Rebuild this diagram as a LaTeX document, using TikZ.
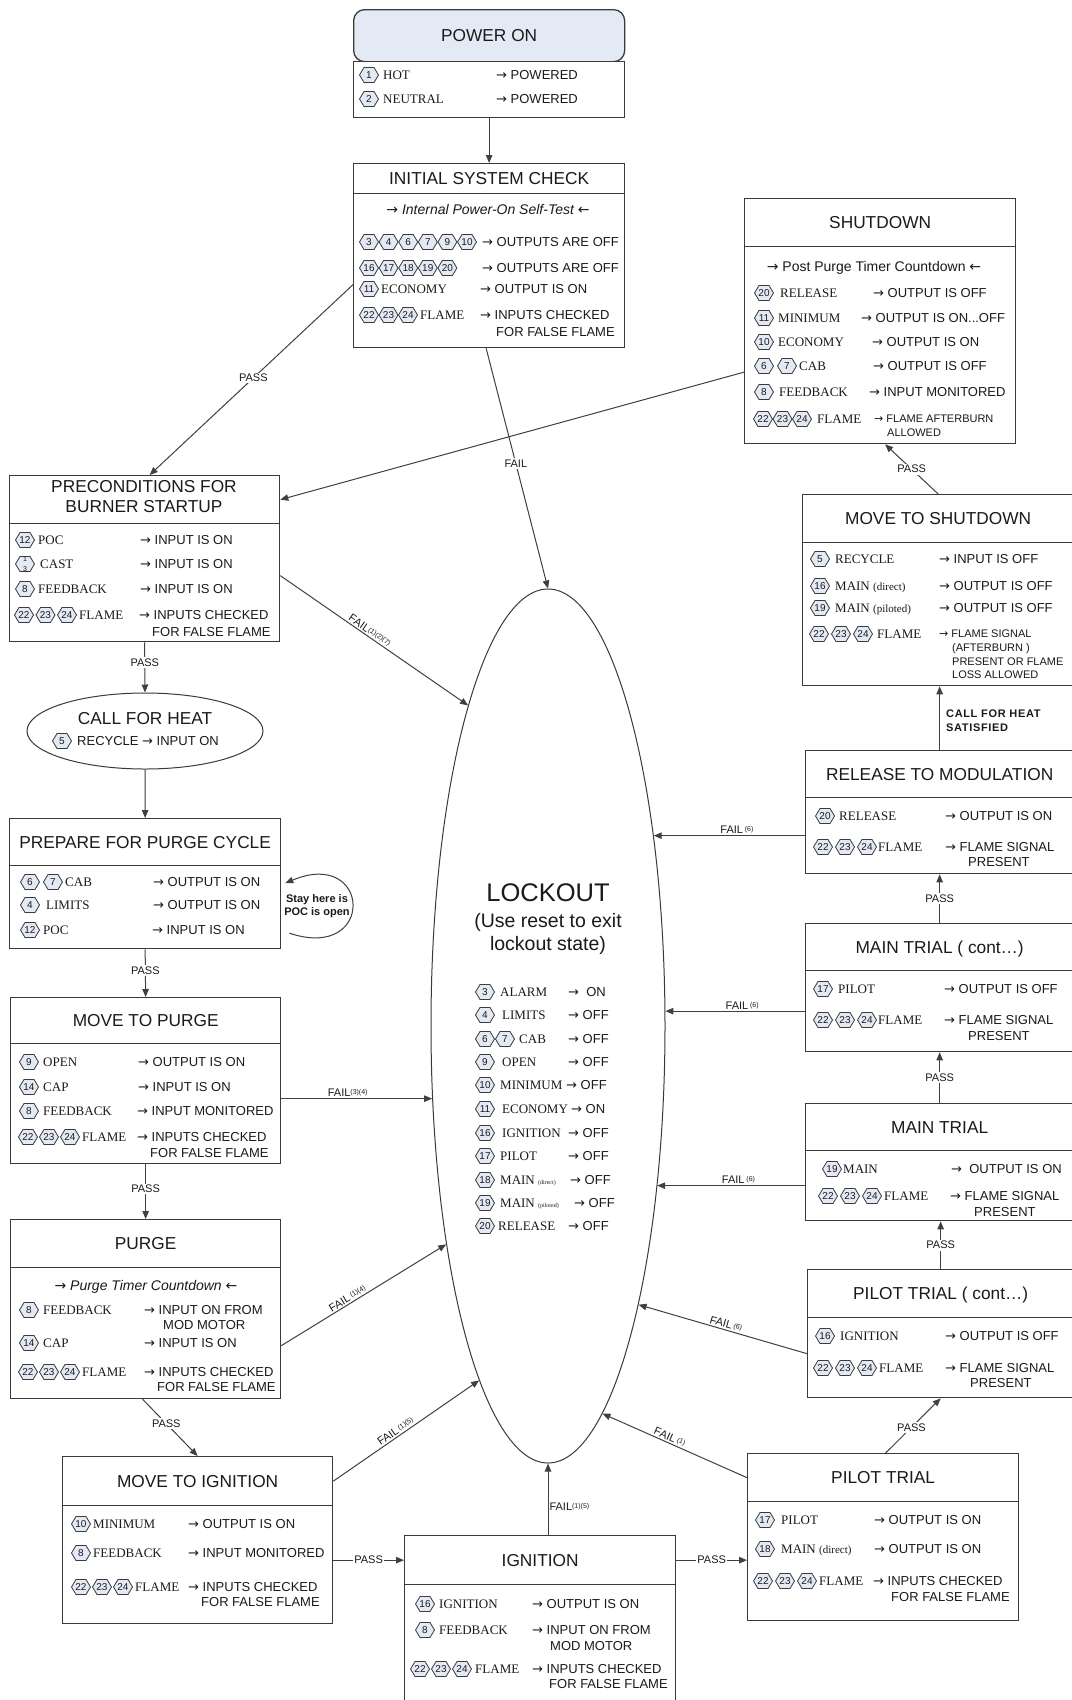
\documentclass[tikz,border=0pt]{standalone}
\usepackage{fontspec}
\setmainfont{Liberation Sans}
\newfontfamily\serifnm{Liberation Serif}
\newfontfamily\dvf{DejaVu Sans}
\usetikzlibrary{arrows.meta,shapes.geometric,calc}
\definecolor{lc}{HTML}{404040}
\definecolor{bc}{HTML}{3A3A3A}
\definecolor{tc}{HTML}{1A1A1A}
\definecolor{hexfill}{HTML}{E4EAF5}
\definecolor{pofill}{HTML}{E3EAF5}
\newcommand\fTtl{\fontsize{17.3}{20}\selectfont}
\newcommand\fNm{\serifnm\fontsize{13}{15}\selectfont}
\newcommand\fVl{\fontsize{13}{15}\selectfont}
\newcommand\fBan{\fontsize{14}{16}\selectfont}
\newcommand\fSm{\fontsize{11}{13}\selectfont}
\newcommand\fLb{\fontsize{11}{12}\selectfont}
\newcommand\fHx{\fontsize{10}{11}\selectfont}
\newcommand\fSup[1]{{\fontsize{7}{8}\selectfont\raisebox{2pt}{#1}}}
\newcommand\ra{{\dvf\upshape →}\ }
\newcommand\la{{\dvf\upshape ←}}
\tikzset{
  x=1pt, y=-1pt,
  ln/.style={draw=lc, line width=1pt},
  arr/.style={ln, -{Triangle[length=8pt,width=6.5pt]}},
  tbox/.style={draw=bc, line width=1.3pt, fill=white, inner sep=0pt, anchor=north west, font=\fTtl, text=tc, text height=12.4pt, text depth=0pt},
  bbox/.style={draw=bc, line width=1.3pt, fill=white, inner sep=0pt, anchor=north west},
  nmst/.style={anchor=west, inner sep=0pt, font=\fNm, text=tc, text height=8.6pt, text depth=0pt},
  vlst/.style={anchor=west, inner sep=0pt, font=\fVl, text=tc, text height=9.3pt, text depth=0pt},
  smst/.style={anchor=west, inner sep=0pt, font=\fSm, text=tc, text height=7.9pt, text depth=0pt},
  hexst/.style={draw=bc, line width=0.8pt, fill=hexfill},
  hexn/.style={inner sep=0pt, font=\fHx, text=tc, text height=7.2pt, text depth=0pt},
  wl/.style={font=\fLb, text=tc, fill=white, inner sep=1.5pt},
  sl/.style={font=\fLb, text=tc, inner sep=1.5pt, sloped, above},
}
\newcommand\hx[3]{\draw[hexst] (#1,#2) ++(-9.5,0) -- ++(4.5,-7.5) -- ++(10,0) -- ++(4.5,7.5) -- ++(-4.5,7.5) -- ++(-10,0) -- cycle; \node[hexn] at (#1,#2) {#3};}
\newcommand\hxf[3]{\hx{#1}{#2}{22}\hx{#1+#3}{#2}{23}\hx{#1+2*#3}{#2}{24}}
\newcommand\Nm[3]{\node[nmst] at (#1,#2) {#3};}
\newcommand\Vl[3]{\node[vlst] at (#1,#2) {#3};}
\newcommand\Sm[3]{\node[smst] at (#1,#2) {#3};}
\begin{document}
\begin{tikzpicture}
\useasboundingbox (0,0) rectangle (1071,1700);
\fill[white] (0,0) rectangle (1071,1700);

% ---------- boxes ----------
\node[tbox, fill=pofill, rounded corners=11pt, minimum width=271pt, minimum height=52pt] (pwt) at (353,9) {POWER ON};
\node[bbox, minimum width=271pt, minimum height=56pt] (pwb) at (353,61) {};
\node[tbox, minimum width=271pt, minimum height=30pt] (isct) at (353,163) {INITIAL SYSTEM CHECK};
\node[bbox, minimum width=271pt, minimum height=154pt] (iscb) at (353,193) {};
\node[tbox, minimum width=271pt, minimum height=48pt] (sdt) at (744,198) {SHUTDOWN};
\node[bbox, minimum width=271pt, minimum height=197pt] (sdb) at (744,246) {};
\node[tbox, minimum width=270pt, minimum height=48pt] (pret) at (9,475) {};
\node[font=\fTtl, text=tc, align=center, inner sep=0pt] (pretx) at (144,497) {PRECONDITIONS FOR\\BURNER STARTUP};
\node[bbox, minimum width=270pt, minimum height=118pt] (preb) at (9,523) {};
\node[ellipse, draw=bc, line width=1pt, fill=white, minimum width=236pt, minimum height=76pt, inner sep=0pt] (cfh) at (145,731) {};
\node[tbox, minimum width=271pt, minimum height=47pt] (prept) at (9,818) {PREPARE FOR PURGE CYCLE};
\node[bbox, minimum width=271pt, minimum height=83pt] (prepb) at (9,865) {};
\node[tbox, minimum width=270pt, minimum height=46pt] (mtpt) at (10,997) {MOVE TO PURGE};
\node[bbox, minimum width=270pt, minimum height=120pt] (mtpb) at (10,1043) {};
\node[tbox, minimum width=270pt, minimum height=48pt] (purt) at (10,1219) {PURGE};
\node[bbox, minimum width=270pt, minimum height=131pt] (purb) at (10,1267) {};
\node[tbox, minimum width=270pt, minimum height=49pt] (mtit) at (62,1456) {MOVE TO IGNITION};
\node[bbox, minimum width=270pt, minimum height=118pt] (mtib) at (62,1505) {};
\node[tbox, minimum width=271pt, minimum height=49pt] (ignt) at (404,1535) {IGNITION};
\node[bbox, minimum width=271pt, minimum height=125pt] (ignb) at (404,1584) {};
\node[tbox, minimum width=271pt, minimum height=48pt] (ptt) at (747,1453) {PILOT TRIAL};
\node[bbox, minimum width=271pt, minimum height=119pt] (ptb) at (747,1501) {};
\node[tbox, minimum width=266pt, minimum height=48pt] (ptct) at (807,1269) {PILOT TRIAL ( cont…)};
\node[bbox, minimum width=266pt, minimum height=80pt] (ptcb) at (807,1317) {};
\node[tbox, minimum width=268pt, minimum height=47pt] (mtt) at (805,1103) {MAIN TRIAL};
\node[bbox, minimum width=268pt, minimum height=70pt] (mtb) at (805,1150) {};
\node[tbox, minimum width=268pt, minimum height=47pt] (mtct) at (805,923) {MAIN TRIAL ( cont…)};
\node[bbox, minimum width=268pt, minimum height=81pt] (mtcb) at (805,970) {};
\node[tbox, minimum width=268pt, minimum height=47pt] (rtmt) at (805,750) {RELEASE TO MODULATION};
\node[bbox, minimum width=268pt, minimum height=76pt] (rtmb) at (805,797) {};
\node[tbox, minimum width=271pt, minimum height=48pt] (mtst) at (802,494) {MOVE TO SHUTDOWN};
\node[bbox, minimum width=271pt, minimum height=143pt] (mtsb) at (802,542) {};
\node[ellipse, draw=bc, line width=1pt, fill=white, minimum width=234pt, minimum height=874pt, inner sep=0pt] (lock) at (548,1026) {};

% ---------- connectors ----------
\draw[arr] (pwb.south) -- (isct.north);
\draw[arr] ([yshift=-14pt]iscb.west) -- node[wl, pos=0.49]{PASS} ([xshift=5pt]pret.north);
\draw[arr] ([xshift=-3pt]iscb.south) -- node[wl, pos=0.48]{FAIL} (lock.north);
\draw[arr] ([yshift=-27pt]sdb.west) -- (pret.east);
\draw[arr] (mtst.north) -- node[wl, pos=0.5]{PASS} ([xshift=5pt]sdb.south);
\draw[arr] (preb.south) -- node[wl, pos=0.4]{PASS} (cfh.north);
\draw[arr] ([yshift=7pt]preb.east) -- node[sl, pos=0.46]{FAIL\fSup{(1)(2)(7)}} (lock.104);
\draw[arr] (cfh.south) -- (prept.north);
\draw[arr] ($(prepb.east)+(8,26)$) .. controls ($(prepb.east)+(95,55)$) and ($(prepb.east)+(90,-60)$) .. ($(prepb.east)+(4,-24)$);
\node[font=\fontsize{11}{13}\selectfont\bfseries, align=center, text=tc, inner sep=0pt] (stay) at (317,906) {Stay here is\\POC is open};
\draw[arr] (prepb.south) -- node[wl, pos=0.45]{PASS} (mtpt.north);
\coordinate (mtpF) at ([yshift=5pt]mtpb.east);
\draw[arr] (mtpF) -- node[sl, pos=0.44]{FAIL\fSup{(3)(4)}} (mtpF -| lock.212);
\draw[arr] (mtpb.south) -- node[wl, pos=0.45]{PASS} (purt.north);
\draw[arr] ([yshift=-12.5pt]purb.east) -- node[sl, pos=0.42]{FAIL\,\fSup{(1)(4)}} (lock.245);
\draw[arr] ([xshift=-3pt]purb.south) -- node[wl, pos=0.43]{PASS} (mtit.north);
\draw[arr] (mtit.east) -- node[sl, pos=0.45]{FAIL\,\fSup{(1)(5)}} (lock.259);
\draw[arr] (mtib.east |- ignt.west) -- node[wl]{PASS} (ignt.west);
\draw[arr] (ignt.north -| lock.south) -- node[anchor=west, font=\fLb, text=tc, inner sep=1pt, pos=0.39]{FAIL\fSup{(1)(5)}} (lock.south);
\draw[arr] (ignt.east) -- node[wl]{PASS} (ignt.east -| ptb.west);
\draw[arr] (ptt.west) -- node[sl, pos=0.55]{FAIL\,\fSup{(1)}} (lock.278);
\draw[arr] ([xshift=2.5pt]ptt.north) -- node[wl, pos=0.47]{PASS} (ptcb.south);
\draw[arr] (ptct.north) -- node[wl]{PASS} (ptct.north |- mtb.south);
\draw[arr] (mtt.north) -- node[wl]{PASS} (mtt.north |- mtcb.south);
\draw[arr] (mtct.north) -- node[wl]{PASS} (mtct.north |- rtmb.south);
\draw[arr] (rtmt.north) -- node[pos=0.46, anchor=west, xshift=6pt, inner sep=0pt, align=left, text=tc, font=\fontsize{11}{14}\selectfont\bfseries\addfontfeatures{LetterSpace=6}]{CALL FOR HEAT\\SATISFIED} (rtmt.north |- mtsb.south);
\draw[arr] (rtmb.west) -- node[sl, pos=0.45]{FAIL\,\fSup{(6)}} (rtmb.west -| lock.61);
\draw[arr] (mtcb.west) -- node[sl, pos=0.45]{FAIL\,\fSup{(6)}} (mtcb.west -| lock.8);
\draw[arr] (mtb.west) -- node[sl, pos=0.45]{FAIL\,\fSup{(6)}} (mtb.west -| lock.304);
\draw[arr] ([yshift=4pt]ptcb.west) -- node[sl, pos=0.49]{FAIL\,\fSup{(6)}} (lock.288);

% ---------- POWER ON ----------
\hx{369}{75}{1} \Nm{383}{75}{HOT} \Vl{496}{75}{\ra POWERED}
\hx{369}{99}{2} \Nm{383}{99}{NEUTRAL} \Vl{496}{99}{\ra POWERED}

% ---------- INITIAL SYSTEM CHECK ----------
\node[vlst, anchor=center, font=\fBan\itshape] at (488,210) {\ra Internal Power-On Self-Test \la};
\hx{369}{242}{3}\hx{388.6}{242}{4}\hx{408.2}{242}{6}\hx{427.8}{242}{7}\hx{447.4}{242}{9}\hx{467}{242}{10}
\Vl{482}{242}{\ra OUTPUTS ARE OFF}
\hx{369}{268}{16}\hx{388.6}{268}{17}\hx{408.2}{268}{18}\hx{427.8}{268}{19}\hx{447.4}{268}{20}
\Vl{482}{268}{\ra OUTPUTS ARE OFF}
\hx{369}{289}{11} \Nm{381}{289}{ECONOMY} \Vl{480}{289}{\ra OUTPUT IS ON}
\hxf{369}{315}{19.5} \Nm{420}{315}{FLAME} \Vl{480}{315}{\ra INPUTS CHECKED} \Vl{496}{332}{FOR FALSE FLAME}

% ---------- SHUTDOWN ----------
\node[vlst, anchor=center, font=\fBan] at (874,267) {\ra Post Purge Timer Countdown \la};
\hx{764}{293}{20} \Nm{780}{293}{RELEASE} \Vl{873}{293}{\ra OUTPUT IS OFF}
\hx{764}{318}{11} \Nm{778}{318}{MINIMUM} \Vl{861}{318}{\ra OUTPUT IS ON...OFF}
\hx{764}{342}{10} \Nm{778}{342}{ECONOMY} \Vl{872}{342}{\ra OUTPUT IS ON}
\hx{764}{366}{6}\hx{787}{366}{7} \Nm{799}{366}{CAB} \Vl{873}{366}{\ra OUTPUT IS OFF}
\hx{764}{392}{8} \Nm{779}{392}{FEEDBACK} \Vl{869}{392}{\ra INPUT MONITORED}
\hxf{763}{419}{19.5} \Nm{817}{419}{FLAME} \Sm{874}{419}{\ra FLAME AFTERBURN} \Sm{887}{433}{ALLOWED}

% ---------- PRECONDITIONS ----------
\hx{25}{540}{12} \Nm{38}{540}{POC} \Vl{140}{540}{\ra INPUT IS ON}
\hx{25}{564}{}
\node[inner sep=0pt, font=\fontsize{7}{8}\selectfont, text=tc] at (25,559.5) {1};
\node[inner sep=0pt, font=\fontsize{7}{8}\selectfont, text=tc] at (25,569) {3};
\Nm{40}{564}{CAST} \Vl{140}{564}{\ra INPUT IS ON}
\hx{25}{589}{8} \Nm{38}{589}{FEEDBACK} \Vl{140}{589}{\ra INPUT IS ON}
\hxf{24}{615}{21.5} \Nm{79}{615}{FLAME} \Vl{139}{615}{\ra INPUTS CHECKED} \Vl{152}{632}{FOR FALSE FLAME}

% ---------- CALL FOR HEAT ----------
\node[font=\fTtl, text=tc, text height=12.4pt, text depth=0pt, inner sep=0pt] (cfht) at (145,718) {CALL FOR HEAT};
\hx{62}{741}{5} \Vl{77}{741}{RECYCLE \ra INPUT ON}

% ---------- PREPARE ----------
\hx{30}{882}{6}\hx{53}{882}{7} \Nm{65}{882}{CAB} \Vl{153}{882}{\ra OUTPUT IS ON}
\hx{30}{905}{4} \Nm{46}{905}{LIMITS} \Vl{153}{905}{\ra OUTPUT IS ON}
\hx{30}{930}{12} \Nm{43}{930}{POC} \Vl{152}{930}{\ra INPUT IS ON}

% ---------- MOVE TO PURGE ----------
\hx{29}{1062}{9} \Nm{43}{1062}{OPEN} \Vl{138}{1062}{\ra OUTPUT IS ON}
\hx{29}{1087}{14} \Nm{43}{1087}{CAP} \Vl{138}{1087}{\ra INPUT IS ON}
\hx{29}{1111}{8} \Nm{43}{1111}{FEEDBACK} \Vl{137}{1111}{\ra INPUT MONITORED}
\hxf{28}{1137}{21} \Nm{82}{1137}{FLAME} \Vl{137}{1137}{\ra INPUTS CHECKED} \Vl{150}{1153}{FOR FALSE FLAME}

% ---------- PURGE ----------
\node[vlst, anchor=center, font=\fBan\itshape] at (146,1286) {\ra Purge Timer Countdown \la};
\hx{29}{1310}{8} \Nm{43}{1310}{FEEDBACK} \Vl{144}{1310}{\ra INPUT ON FROM} \Vl{163}{1325}{MOD MOTOR}
\hx{29}{1343}{14} \Nm{43}{1343}{CAP} \Vl{144}{1343}{\ra INPUT IS ON}
\hxf{28}{1372}{21} \Nm{82}{1372}{FLAME} \Vl{144}{1372}{\ra INPUTS CHECKED} \Vl{157}{1387}{FOR FALSE FLAME}

% ---------- MOVE TO IGNITION ----------
\hx{81}{1524}{10} \Nm{93}{1524}{MINIMUM} \Vl{188}{1524}{\ra OUTPUT IS ON}
\hx{81}{1553}{8} \Nm{93}{1553}{FEEDBACK} \Vl{188}{1553}{\ra INPUT MONITORED}
\hxf{81}{1587}{21} \Nm{135}{1587}{FLAME} \Vl{188}{1587}{\ra INPUTS CHECKED} \Vl{201}{1602}{FOR FALSE FLAME}

% ---------- IGNITION ----------
\hx{425}{1604}{16} \Nm{439}{1604}{IGNITION} \Vl{532}{1604}{\ra OUTPUT IS ON}
\hx{425}{1630}{8} \Nm{439}{1630}{FEEDBACK} \Vl{532}{1630}{\ra INPUT ON FROM} \Vl{550}{1646}{MOD MOTOR}
\hxf{420}{1669}{21} \Nm{475}{1669}{FLAME} \Vl{532}{1669}{\ra INPUTS CHECKED} \Vl{549}{1684}{FOR FALSE FLAME}

% ---------- PILOT TRIAL ----------
\hx{765}{1520}{17} \Nm{781}{1520}{PILOT} \Vl{874}{1520}{\ra OUTPUT IS ON}
\hx{765}{1549}{18} \Nm{781}{1549}{MAIN {\fontsize{11}{12}\selectfont(direct)}} \Vl{874}{1549}{\ra OUTPUT IS ON}
\hxf{763}{1581}{22} \Nm{819}{1581}{FLAME} \Vl{873}{1581}{\ra INPUTS CHECKED} \Vl{891}{1597}{FOR FALSE FLAME}

% ---------- PILOT TRIAL (cont) ----------
\hx{825}{1336}{16} \Nm{840}{1336}{IGNITION} \Vl{945}{1336}{\ra OUTPUT IS OFF}
\hxf{823}{1368}{22} \Nm{879}{1368}{FLAME} \Vl{945}{1368}{\ra FLAME SIGNAL} \Vl{970}{1383}{PRESENT}

% ---------- MAIN TRIAL ----------
\hx{832}{1169}{19} \Nm{843}{1169}{MAIN} \Vl{951}{1169}{\ra\ OUTPUT IS ON}
\hxf{828}{1196}{22} \Nm{884}{1196}{FLAME} \Vl{950}{1196}{\ra FLAME SIGNAL} \Vl{974}{1212}{PRESENT}

% ---------- MAIN TRIAL (cont) ----------
\hx{823}{989}{17} \Nm{838}{989}{PILOT} \Vl{944}{989}{\ra OUTPUT IS OFF}
\hxf{823}{1020}{22} \Nm{878}{1020}{FLAME} \Vl{944}{1020}{\ra FLAME SIGNAL} \Vl{968}{1036}{PRESENT}

% ---------- RELEASE TO MODULATION ----------
\hx{825}{816}{20} \Nm{839}{816}{RELEASE} \Vl{945}{816}{\ra OUTPUT IS ON}
\hxf{823}{847}{22} \Nm{878}{847}{FLAME} \Vl{945}{847}{\ra FLAME SIGNAL} \Vl{968}{862}{PRESENT}

% ---------- MOVE TO SHUTDOWN ----------
\hx{820}{559}{5} \Nm{835}{559}{RECYCLE} \Vl{939}{559}{\ra INPUT IS OFF}
\hx{820}{586}{16} \Nm{835}{586}{MAIN {\fontsize{11}{12}\selectfont(direct)}} \Vl{939}{586}{\ra OUTPUT IS OFF}
\hx{820}{608}{19} \Nm{835}{608}{MAIN {\fontsize{11}{12}\selectfont(piloted)}} \Vl{939}{608}{\ra OUTPUT IS OFF}
\hxf{819}{634}{22} \Nm{877}{634}{FLAME} \Sm{939}{634}{\ra FLAME SIGNAL}
\Sm{952}{648}{(AFTERBURN )} \Sm{952}{662}{PRESENT OR FLAME} \Sm{952}{675}{LOSS ALLOWED}

% ---------- LOCKOUT ----------
\node[font=\fontsize{25.5}{28}\selectfont, text=tc, text height=18.3pt, text depth=0pt, inner sep=0pt] (lkt) at (548,892) {LOCKOUT};
\node[font=\fontsize{19.5}{23}\selectfont, text=tc, text height=14pt, text depth=0pt, inner sep=0pt] (lks1) at (548,920) {(Use reset to exit};
\node[font=\fontsize{19.5}{23}\selectfont, text=tc, text height=14pt, text depth=0pt, inner sep=0pt] (lks2) at (548,943) {lockout state)};
\hx{485}{992}{3} \Nm{500}{992}{ALARM} \Vl{568}{992}{\ra\ ON}
\hx{485}{1015}{4} \Nm{502}{1015}{LIMITS} \Vl{568}{1015}{\ra OFF}
\hx{485}{1039}{6}\hx{505}{1039}{7} \Nm{519}{1039}{CAB} \Vl{568}{1039}{\ra OFF}
\hx{485}{1062}{9} \Nm{502}{1062}{OPEN} \Vl{568}{1062}{\ra OFF}
\hx{485}{1085}{10} \Nm{500}{1085}{MINIMUM} \Vl{566}{1085}{\ra OFF}
\hx{485}{1109}{11} \Nm{502}{1109}{ECONOMY} \Vl{571}{1109}{\ra ON}
\hx{485}{1133}{16} \Nm{502}{1133}{IGNITION} \Vl{568}{1133}{\ra OFF}
\hx{485}{1156}{17} \Nm{500}{1156}{PILOT} \Vl{568}{1156}{\ra OFF}
\hx{485}{1180}{18} \Nm{500}{1180}{MAIN {\fontsize{6}{7}\selectfont(direct)}} \Vl{570}{1180}{\ra OFF}
\hx{485}{1203}{19} \Nm{500}{1203}{MAIN {\fontsize{6}{7}\selectfont(piloted)}} \Vl{574}{1203}{\ra OFF}
\hx{485}{1226}{20} \Nm{498}{1226}{RELEASE} \Vl{568}{1226}{\ra OFF}
\end{tikzpicture}
\end{document}
